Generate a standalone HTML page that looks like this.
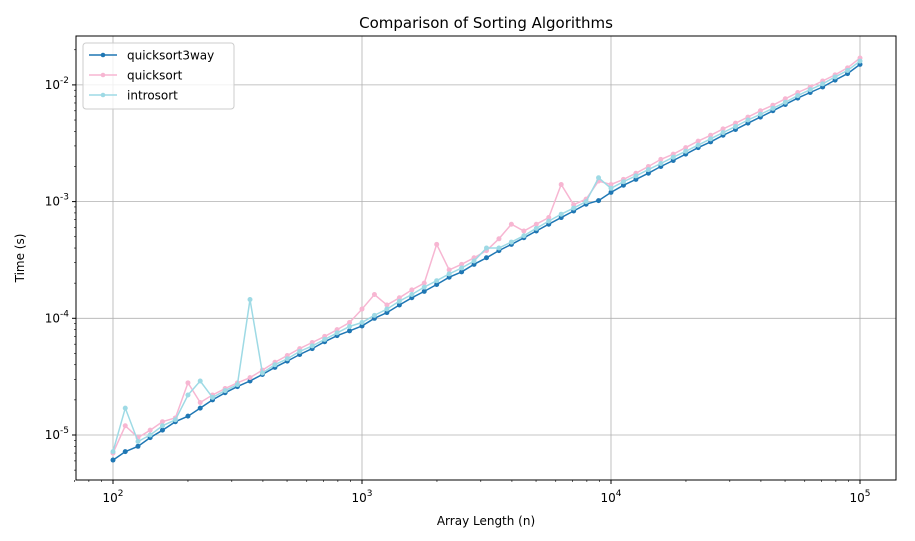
<!DOCTYPE html>
<html><head><meta charset="utf-8"><style>
body{margin:0;background:#fff;font-family:"Liberation Sans","DejaVu Sans",sans-serif}
svg text{font-family:"DejaVu Sans","Liberation Sans",sans-serif}
</style></head><body>
<svg id="chart" width="915" height="536" xmlns="http://www.w3.org/2000/svg">
<rect width="915" height="536" fill="#fff"/>
<text x="486" y="28" font-size="15" text-anchor="middle">Comparison of Sorting Algorithms</text>
<g id="grid"></g><g id="series"></g>
<rect x="76" y="36" width="820" height="444" fill="none" stroke="#000" stroke-width="1"/>
<g id="ticks"></g>
<text x="486" y="525" font-size="12" text-anchor="middle">Array Length (n)</text>
<text transform="translate(24,258) rotate(-90)" font-size="12" text-anchor="middle">Time (s)</text>
<g id="legend"></g>
</svg>
<script>
const sizes=[100,112,126,141,158,178,200,224,251,282,316,355,398,447,501,562,631,708,794,891,1000,1122,1259,1413,1585,1778,1995,2239,2512,2818,3162,3548,3981,4467,5012,5623,6310,7079,7943,8913,10000,11220,12590,14130,15850,17780,19950,22390,25120,28180,31620,35480,39810,44670,50120,56230,63100,70790,79430,89130,100000];
// times in microseconds
const quick3way=[6.1,7.2,8.0,9.5,11,13,14.5,17,20,23,26,29,33,38,43,49,55,63,71,78,86,100,112,130,150,170,195,225,250,290,330,380,430,490,560,640,730,830,950,1020,1200,1380,1550,1750,2000,2250,2550,2900,3250,3700,4150,4700,5300,6000,6800,7700,8600,9600,11000,12500,15000];
const quicksort=[7.0,12,9.5,11,13,14,28,19,22,25,28,31,36,42,48,55,62,70,80,92,120,160,130,150,175,200,430,260,290,330,380,480,640,560,640,730,1400,940,1050,1500,1400,1550,1750,2000,2300,2550,2900,3300,3700,4200,4700,5300,6000,6700,7600,8600,9600,10800,12200,14000,17000];
const introsort=[7.2,17,8.8,10,12,13.5,22,29,21,24,27,145,34,40,45,52,58,66,75,85,92,106,120,140,160,185,210,240,270,310,400,400,450,510,590,680,780,880,1000,1600,1300,1480,1660,1880,2120,2400,2700,3050,3450,3900,4400,5000,5600,6300,7100,8100,9100,10200,11700,13300,16000];
const xPix=n=>113+249*(Math.log10(n)-2);
const yPix=us=>435-116.7*(Math.log10(us)-1);
const NS="http://www.w3.org/2000/svg";
function mk(tag,attrs,parent){const e=document.createElementNS(NS,tag);for(const k in attrs)e.setAttribute(k,attrs[k]);parent.appendChild(e);return e;}
const grid=document.getElementById('grid'),ticks=document.getElementById('ticks');
const xExp=[2,3,4,5],yExp=[-5,-4,-3,-2];
xExp.forEach(e=>{const x=xPix(Math.pow(10,e));
 const g=mk('line',{x1:x,x2:x,y1:36,y2:480,stroke:'#b0b0b0','stroke-width':0.8},grid);
 
 mk('line',{x1:x,x2:x,y1:480,y2:484,stroke:'#000'},ticks);
 const t=mk('text',{x:x,y:502,'font-size':12,'text-anchor':'middle'},ticks);
 
 t.innerHTML='10<tspan dy="-6" font-size="9">'+e+'</tspan>';
 for(let m=2;m<10&&e<5;m++){const xm=xPix(m*Math.pow(10,e));mk('line',{x1:xm,x2:xm,y1:480,y2:482,stroke:'#000','stroke-width':0.6},ticks);}
 if(e==2)for(let m=7;m<10;m++){const xm=xPix(m*10);mk('line',{x1:xm,x2:xm,y1:480,y2:482,stroke:'#000','stroke-width':0.6},ticks);}
});
yExp.forEach(e=>{const y=yPix(Math.pow(10,e+6));
 const g=mk('line',{x1:76,x2:896,y1:y,y2:y,stroke:'#b0b0b0','stroke-width':0.8},grid);
 
 mk('line',{x1:72,x2:76,y1:y,y2:y,stroke:'#000'},ticks);
 const t=mk('text',{x:69,y:y+4,'font-size':12,'text-anchor':'end'},ticks);
 
 t.innerHTML='10<tspan dy="-6" font-size="9">'+e+'</tspan>';
 for(let m=2;m<10;m++){const ym=yPix(m*Math.pow(10,e+6));if(ym>36&&ym<480)mk('line',{x1:74,x2:76,y1:ym,y2:ym,stroke:'#000','stroke-width':0.6},ticks);}
 if(e==-5)for(let m=2;m<10;m++){const ym=yPix(m*Math.pow(10,e+5));if(ym<480&&ym>36)mk('line',{x1:74,x2:76,y1:ym,y2:ym,stroke:'#000','stroke-width':0.6},ticks);}
});
const seriesG=document.getElementById('series');
const seriesList=[['quicksort3way',quick3way,'#1f77b4'],['quicksort',quicksort,'#f7b6d2'],['introsort',introsort,'#9edae5']];
seriesList.forEach(([name,vals,col])=>{
 const g=mk('g',{},seriesG);
 
 const pts=vals.map((v,i)=>xPix(sizes[i]).toFixed(1)+','+yPix(v).toFixed(1)).join(' ');
 const pl=mk('polyline',{points:pts,fill:'none',stroke:col,'stroke-width':1.5},g);
 
 vals.forEach((v,i)=>{const c=mk('circle',{cx:xPix(sizes[i]),cy:yPix(v),r:2.5,fill:col},g);
  });
});
const lg=document.getElementById('legend');
mk('rect',{x:83,y:43,width:151,height:66,rx:3,fill:'#fff','fill-opacity':0.8,stroke:'#ccc'},lg);
seriesList.forEach(([name,vals,col],i)=>{const y=55+i*20;
 const ent=mk('g',{},lg);
 
 mk('line',{x1:89,x2:117,y1:y,y2:y,stroke:col,'stroke-width':1.5},ent);
 mk('circle',{cx:103,cy:y,r:2.3,fill:col},ent);
 const t=mk('text',{x:127,y:y+4.5,'font-size':12},ent);t.textContent=name;
});
</script>
</body></html>
